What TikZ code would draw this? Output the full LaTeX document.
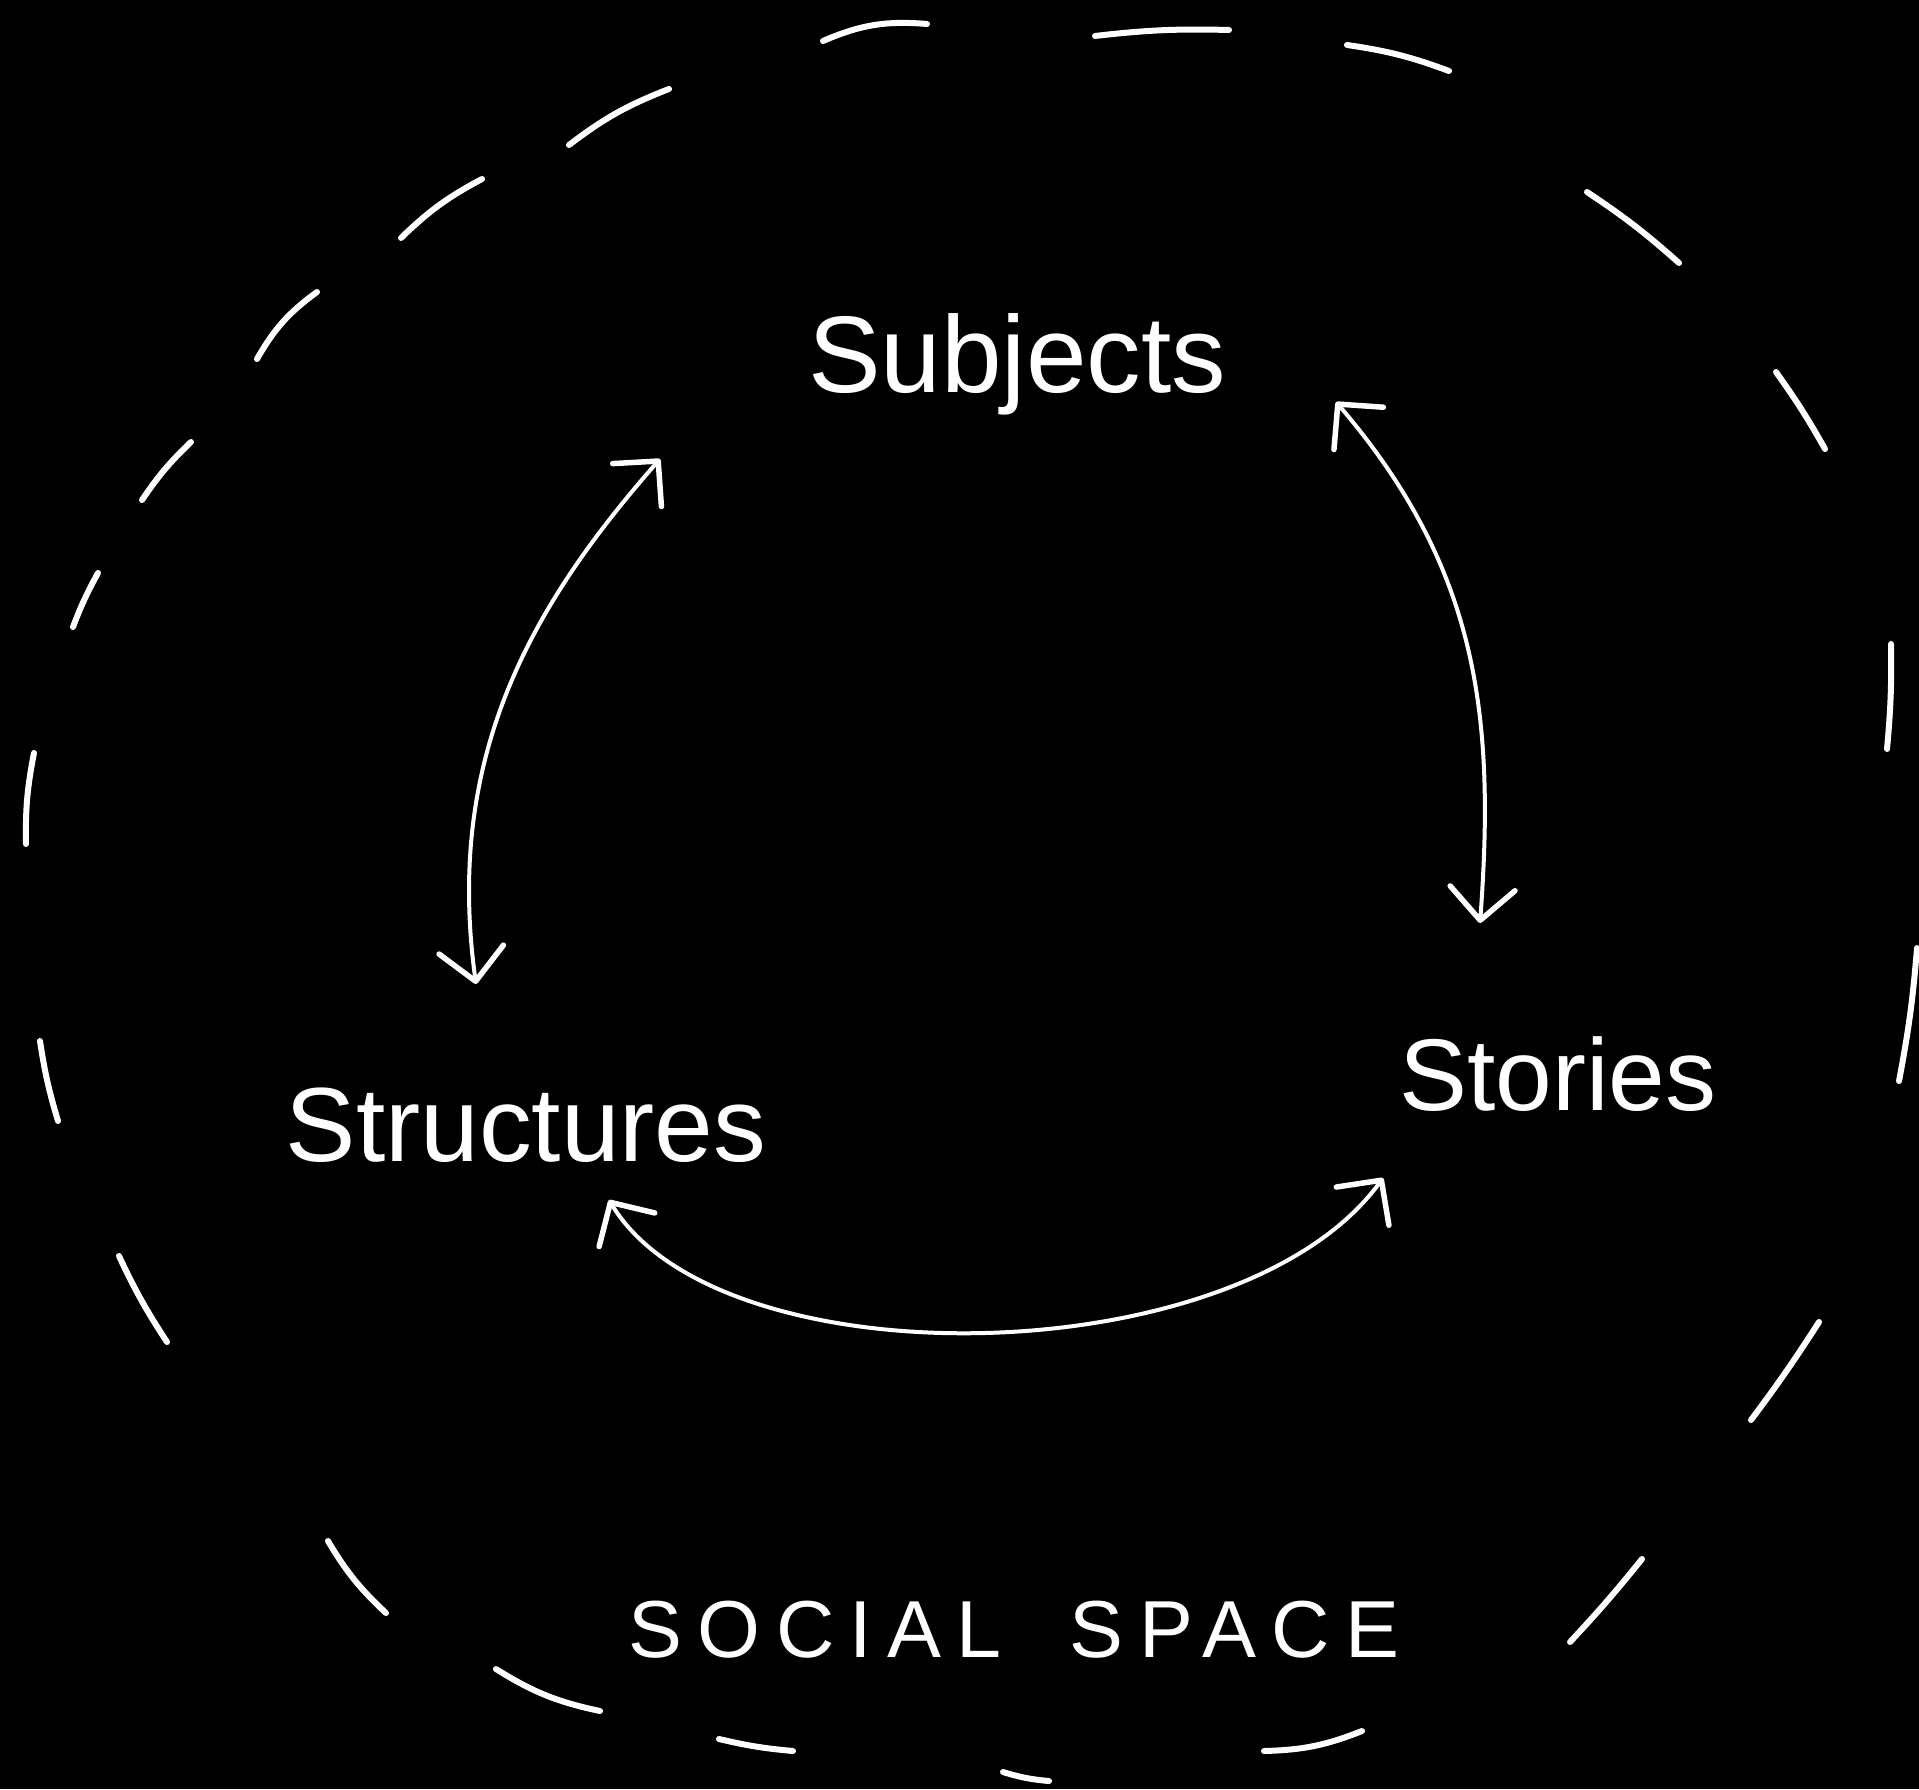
\documentclass[tikz,border=0pt]{standalone}
\usepackage{fontspec}
\setmainfont{Liberation Sans}
\newfontfamily\socfont{Liberation Sans}[LetterSpace=19, WordSpace=1.8]
\usetikzlibrary{arrows.meta,calc}
\begin{document}
\begin{tikzpicture}[x=0.1mm,y=-0.1mm,
  lbl/.style={text=white, inner sep=0pt, anchor=base},
  dashpart/.style={draw=white, line width=0.6mm, line cap=round},
  barb/.tip={Straight Barb[length=3.2mm,width=6.5mm,line width=0.55mm,round]},
  biarrow/.style={draw=white, line width=0.4mm, line cap=round, barb-barb}]
\fill[black] (0,0) rectangle (1919,1789);
\useasboundingbox (0,0) rectangle (1919,1789);

% labels
\node[lbl, font=\fontsize{31}{36}\selectfont] (sub) at (1017,393) {Subjects};
\node[lbl, font=\fontsize{30}{36}\selectfont] (str) at (526,1161) {Structures};
\node[lbl, font=\fontsize{29}{34}\selectfont] (sto) at (1558,1110) {Stories};
\node[lbl, font=\socfont\fontsize{23}{28}\selectfont] (soc) at (1014,1657) {SOCIAL SPACE};

% connectors
\draw[biarrow] ($(sub.base)+(-357,66)$) .. controls +(-132,150) and +(-31,-224) .. ($(str.base)+(-50,-177)$);
\draw[biarrow] ($(sub.base)+(319,9)$) .. controls +(144,168) and +(15,-203) .. ($(sto.base)+(-78,-187)$);
\draw[biarrow] ($(str.base)+(83,39)$) .. controls +(111,184) and +(-143,197) .. ($(sto.base)+(-175,68)$);

% dashed outline of the social space
\draw[dashpart] (26,844) to[bend left=6] (34,753);
\draw[dashpart] (73,627) to[bend left=4] (98,573);
\draw[dashpart] (142,500) to[bend left=6] (191,442);
\draw[dashpart] (257,359) to[bend left=12] (317,292);
\draw[dashpart] (401,238) to[bend left=8] (482,179);
\draw[dashpart] (569,145) to[bend left=8] (669,89);
\draw[dashpart] (823,41) to[bend left=14] (927,24);
\draw[dashpart] (1095,36) to[bend left=4] (1229,30);
\draw[dashpart] (1347,45) to[bend left=6] (1449,71);
\draw[dashpart] (1587,192) to[bend left=4] (1679,263);
\draw[dashpart] (1776,372) to[bend left=3] (1825,449);
\draw[dashpart] (1891,644) to[bend left=3] (1887,749);
\draw[dashpart] (1917,948) to[bend left=3] (1899,1081);
\draw[dashpart] (1819,1322) to[bend left=2] (1751,1420);
\draw[dashpart] (1642,1559) to[bend left=2] (1570,1642);
\draw[dashpart] (1362,1731) to[bend left=10] (1264,1751);
\draw[dashpart] (1049,1781) to[bend left=6] (1003,1772);
\draw[dashpart] (793,1751) to[bend left=4] (719,1739);
\draw[dashpart] (600,1711) to[bend left=10] (496,1669);
\draw[dashpart] (386,1613) to[bend left=8] (328,1541);
\draw[dashpart] (167,1342) to[bend left=4] (119,1256);
\draw[dashpart] (58,1121) to[bend left=4] (40,1041);
\end{tikzpicture}
\end{document}
